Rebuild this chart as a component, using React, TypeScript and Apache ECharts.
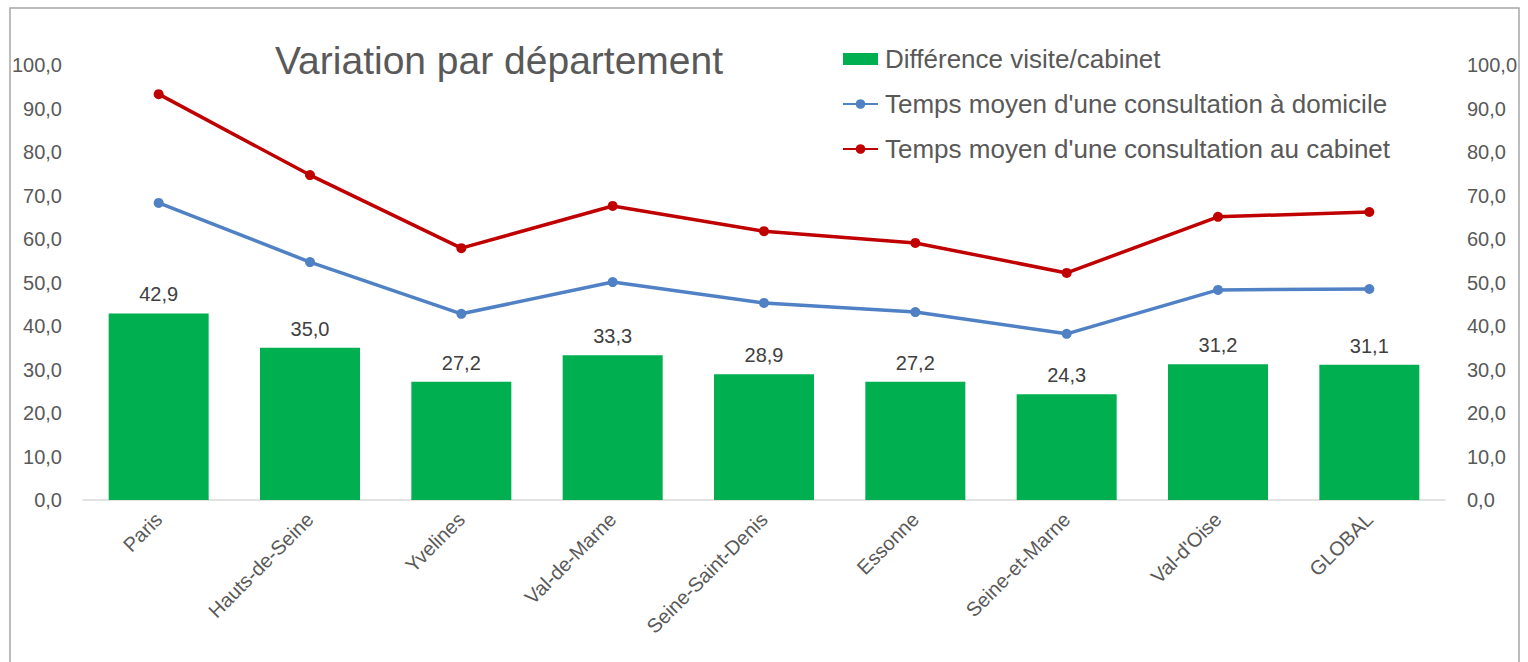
import React, { useEffect, useRef } from "react";
import * as echarts from "echarts";

const categories = [
  "Paris",
  "Hauts-de-Seine",
  "Yvelines",
  "Val-de-Marne",
  "Seine-Saint-Denis",
  "Essonne",
  "Seine-et-Marne",
  "Val-d'Oise",
  "GLOBAL",
];
const difference = [42.9, 35.0, 27.2, 33.3, 28.9, 27.2, 24.3, 31.2, 31.1];
const domicile = [68.3, 54.7, 42.8, 50.1, 45.3, 43.2, 38.2, 48.3, 48.5];
const cabinet = [93.3, 74.7, 57.9, 67.6, 61.8, 59.1, 52.2, 65.1, 66.2];

const seriesNames = [
  "Différence visite/cabinet",
  "Temps moyen d'une consultation à domicile",
  "Temps moyen d'une consultation au cabinet",
];
const titleText = "Variation par département";

const fmt = (v: number) => v.toFixed(1).replace(".", ",");
const FONT = "'Liberation Sans', Arial, sans-serif";
const GREY = "#595959";

export default function App() {
  const ref = useRef<HTMLDivElement>(null);
  useEffect(() => {
    if (!ref.current) return;
    const chart = echarts.init(ref.current, null, { renderer: "svg" });
    const yAxisCommon = {
      type: "value",
      min: 0,
      max: 100,
      interval: 10,
      axisLine: { show: false },
      axisTick: { show: false },
      splitLine: { show: false },
      axisLabel: {
        formatter: (v: number) => fmt(v),
        color: GREY,
        fontSize: 20,
        fontFamily: FONT,
        margin: 21,
      },
    };
    chart.setOption({
      animation: false,
      textStyle: { fontFamily: FONT },
      title: {
        text: titleText,
        left: 270,
        top: 36,
        textStyle: { fontSize: 39, fontWeight: "normal", color: GREY, fontFamily: FONT },
      },
      legend: {
        orient: "vertical",
        left: 837,
        top: 39,
        itemWidth: 35,
        itemHeight: 12,
        itemGap: 15,
        data: [
          { name: seriesNames[0], icon: "rect", itemStyle: { color: "#00B050" } },
          { name: seriesNames[1] },
          { name: seriesNames[2] },
        ],
        textStyle: {
          fontSize: 26,
          color: GREY,
          fontFamily: FONT,
          lineHeight: 30,
          padding: [0, 0, 0, 2],
        },
      },
      graphic: [
        {
          type: "rect",
          shape: { x: 10, y: 8, width: 1509, height: 700 },
          style: { fill: "none", stroke: "#a6a6a6", lineWidth: 1.5 },
          silent: true,
        },
      ],
      grid: { left: 83, right: 83, top: 65, bottom: 162 },
      xAxis: {
        type: "category",
        data: categories,
        axisLine: { show: true, lineStyle: { color: "#d9d9d9", width: 1.5 } },
        axisTick: { show: false },
        axisLabel: {
          rotate: 45,
          color: GREY,
          fontSize: 20,
          fontFamily: FONT,
          margin: 16,
          interval: 0,
        },
      },
      yAxis: [
        { ...yAxisCommon, position: "left" },
        { ...yAxisCommon, position: "right", axisLabel: { ...yAxisCommon.axisLabel, margin: 22 } },
      ],
      series: [
        {
          name: seriesNames[0],
          type: "bar",
          data: difference,
          barWidth: 100,
          itemStyle: { color: "#00B050" },
          label: {
            show: true,
            position: "top",
            distance: 9,
            formatter: (p: any) => fmt(p.value),
            color: "#404040",
            fontSize: 20,
            fontFamily: FONT,
          },
          z: 1,
        },
        {
          name: seriesNames[1],
          type: "line",
          data: domicile,
          symbol: "circle",
          symbolSize: 10,
          lineStyle: { color: "#4F81C4", width: 3.5 },
          itemStyle: { color: "#4F81C4" },
          z: 3,
        },
        {
          name: seriesNames[2],
          type: "line",
          data: cabinet,
          symbol: "circle",
          symbolSize: 10,
          lineStyle: { color: "#C00000", width: 3.5 },
          itemStyle: { color: "#C00000" },
          z: 3,
        },
      ],
    });
    return () => chart.dispose();
  }, []);
  return (
    <div
      ref={ref}
      style={{ position: "absolute", left: 0, top: 0, width: 1528, height: 662, background: "#fff" }}
    />
  );
}
